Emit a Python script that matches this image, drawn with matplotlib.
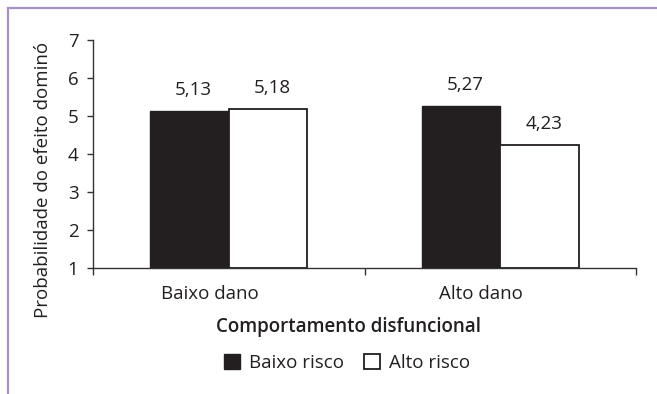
import matplotlib
matplotlib.use("Agg")
import matplotlib.pyplot as plt
from matplotlib.patches import Patch
from matplotlib.lines import Line2D
import numpy as np

categories = ["Baixo dano", "Alto dano"]
series_names = ["Baixo risco", "Alto risco"]
baixo_risco = [5.13, 5.27]
alto_risco = [5.18, 4.23]
yticks = [1, 2, 3, 4, 5, 6, 7]

plt.rcParams['font.family'] = ['Open Sans', 'DejaVu Sans']
ink = "#231f20"
fs = 13.5

fig = plt.figure(figsize=(6.57, 3.94), dpi=100)
ax = fig.add_axes([0.1416, 0.3198, 0.8264, 0.5787])

x = np.arange(len(categories))
w = 0.29
ax.bar(x - w / 2, np.array(baixo_risco) - 1, w, bottom=1,
       color=ink, edgecolor=ink, linewidth=1.0)
ax.bar(x + w / 2, np.array(alto_risco) - 1, w, bottom=1,
       color="white", edgecolor=ink, linewidth=1.3)

for xs, vals in ((x - w / 2, baixo_risco), (x + w / 2, alto_risco)):
    for xi, v in zip(xs, vals):
        ax.text(xi + 0.015, v + 0.55, f"{v:.2f}".replace(".", ","),
                ha="center", va="center", fontsize=fs, color=ink)

ax.set_xlim(-0.5, 1.5)
ax.set_ylim(1, 7)
ax.set_yticks(yticks)
ax.tick_params(axis="y", direction="out", length=4.5, width=1, color="#333",
               labelsize=fs, labelcolor=ink, pad=6)
# category names sit a little left of the group centres
ax.set_xticks(x - 0.07)
ax.set_xticklabels(categories)
ax.tick_params(axis="x", length=0, labelsize=fs, labelcolor=ink, pad=12)
ax.set_xticks([-0.5, 0.5, 1.5], minor=True)
ax.tick_params(axis="x", which="minor", direction="out", length=5, width=1,
               color="#333")
for s in ("top", "right"):
    ax.spines[s].set_visible(False)
for s in ("left", "bottom"):
    ax.spines[s].set_color("#333")
    ax.spines[s].set_linewidth(1)

fig.text(43 / 657, 1 - 180 / 394, "Probabilidade do efeito dominó",
         rotation=90, ha="center", va="center", fontsize=fs, color=ink)

fig.text(349 / 657, 1 - 327 / 394, "Comportamento disfuncional", ha="center",
         va="center", fontsize=fs, fontweight="semibold", color=ink)

handles = [Patch(facecolor=ink, edgecolor=ink),
           Patch(facecolor="white", edgecolor=ink, linewidth=1.3)]
fig.legend(handles, series_names, loc="center", ncol=2,
           bbox_to_anchor=(347 / 657, 1 - 363 / 394), frameon=False,
           fontsize=fs, handlelength=0.85, handleheight=0.85,
           handletextpad=0.45, columnspacing=1.1, labelcolor=ink)

# purple frame along the top and left edges
frame = "#a791c8"
fig.add_artist(Line2D([8 / 657, 1], [1 - 7.5 / 394] * 2, color=frame, lw=1.6))
fig.add_artist(Line2D([8 / 657] * 2, [0, 1 - 7.5 / 394], color=frame, lw=1.6))

fig.savefig("out.png", dpi=100)
